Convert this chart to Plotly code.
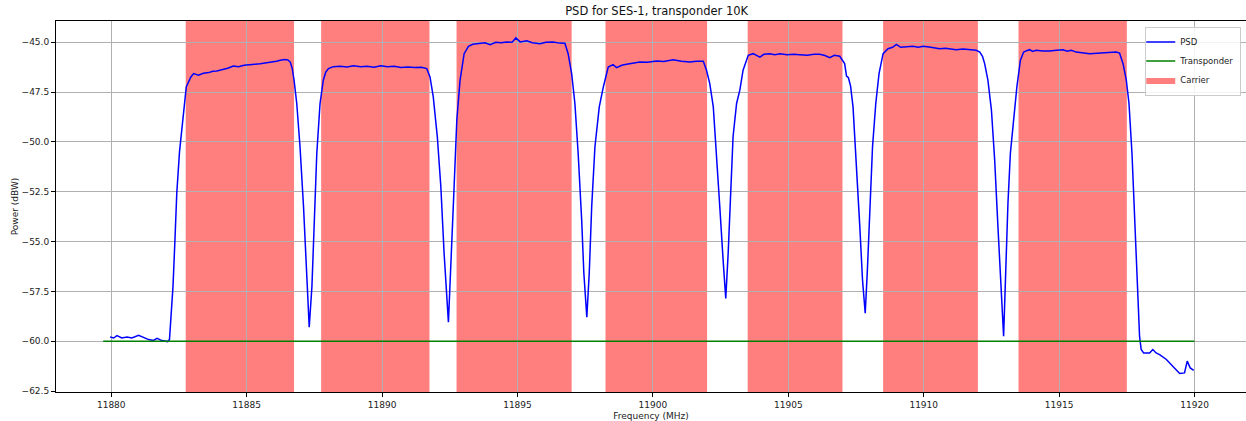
import plotly.graph_objects as go

# ---- data ----
freq_mhz = [
    11879.96, 11880.09, 11880.21, 11880.39, 11880.58, 11880.76, 11881.01, 11881.19, 11881.38, 11881.56,
    11881.69, 11881.87, 11882.08, 11882.15,
    11882.22, 11882.28, 11882.35, 11882.42, 11882.52, 11882.63, 11882.77, 11882.94, 11883.04,
    11883.22, 11883.40, 11883.60, 11883.75, 11883.90, 11884.10, 11884.30, 11884.51, 11884.70, 11884.90,
    11885.13, 11885.30, 11885.50, 11885.74, 11885.95, 11886.10, 11886.24, 11886.40, 11886.52, 11886.61,
    11886.68, 11886.75, 11886.85, 11886.97, 11887.10, 11887.22, 11887.31, 11887.41, 11887.49, 11887.59,
    11887.71, 11887.83, 11887.92, 11888.02,
    11888.20, 11888.45, 11888.70, 11888.95, 11889.20, 11889.45, 11889.70, 11889.95, 11890.20, 11890.45,
    11890.70, 11890.95, 11891.20, 11891.45, 11891.65,
    11891.77, 11891.89, 11892.04, 11892.17, 11892.29, 11892.45, 11892.57, 11892.66, 11892.76, 11892.88,
    11893.03, 11893.19,
    11893.35, 11893.62, 11893.80, 11893.99, 11894.20, 11894.40, 11894.60, 11894.80, 11894.94, 11895.10,
    11895.34, 11895.55, 11895.83, 11896.05, 11896.32, 11896.55, 11896.75,
    11896.87, 11897.00, 11897.12, 11897.24, 11897.37, 11897.45, 11897.56, 11897.65, 11897.74, 11897.86,
    11898.02, 11898.17, 11898.35,
    11898.53, 11898.66, 11898.85, 11899.03, 11899.25, 11899.52, 11899.80, 11900.14, 11900.40, 11900.75,
    11901.05, 11901.37, 11901.60, 11901.86,
    11901.98, 11902.10, 11902.23, 11902.35, 11902.47, 11902.60, 11902.69, 11902.78, 11902.87, 11902.96,
    11903.09, 11903.21, 11903.33, 11903.52,
    11903.70, 11903.82, 11903.95, 11904.10, 11904.32, 11904.50, 11904.70, 11904.95, 11905.20, 11905.42,
    11905.70, 11905.95, 11906.16, 11906.35, 11906.53, 11906.70, 11906.90,
    11907.08, 11907.15, 11907.22, 11907.30, 11907.39, 11907.52, 11907.64, 11907.74, 11907.84, 11907.92,
    11908.01, 11908.11, 11908.23, 11908.35, 11908.50, 11908.68,
    11908.85, 11908.99, 11909.15, 11909.36, 11909.60, 11909.80, 11909.98, 11910.20, 11910.40, 11910.59,
    11910.80, 11911.00, 11911.20, 11911.45, 11911.65, 11911.82, 11911.94,
    11912.07, 11912.17, 11912.25, 11912.37, 11912.50, 11912.62, 11912.74, 11912.84, 11912.95, 11913.03,
    11913.11, 11913.20, 11913.32, 11913.44, 11913.57, 11913.69,
    11913.80, 11913.91, 11914.02, 11914.15, 11914.40, 11914.65, 11914.90, 11915.14, 11915.30, 11915.45,
    11915.63, 11915.85, 11916.13, 11916.40, 11916.62, 11916.85, 11917.11, 11917.23,
    11917.36, 11917.48, 11917.58, 11917.69, 11917.79, 11917.88, 11917.97, 11918.03, 11918.12,
    11918.34, 11918.46, 11918.58, 11918.71, 11918.96, 11919.20, 11919.45, 11919.63, 11919.73, 11919.84,
    11919.97,
]
psd_dbw = [
    -59.79, -59.84, -59.72, -59.84, -59.79, -59.84, -59.70, -59.80, -59.92, -59.96,
    -59.86, -59.97, -60.02, -59.92,
    -58.50, -57.25, -55.00, -52.56, -50.50, -48.90, -47.24, -46.74, -46.57,
    -46.65, -46.55, -46.52, -46.45, -46.44, -46.38, -46.30, -46.19, -46.22, -46.15,
    -46.14, -46.10, -46.08, -46.04, -46.00, -45.95, -45.90, -45.86, -45.88, -45.99,
    -46.30, -46.90, -48.07, -50.24, -53.25, -56.92, -59.30, -57.25, -53.91, -50.57,
    -48.07, -46.90, -46.50, -46.32,
    -46.22, -46.20, -46.24, -46.18, -46.22, -46.20, -46.25, -46.18, -46.22, -46.20,
    -46.26, -46.24, -46.27, -46.25, -46.32,
    -46.74, -47.74, -49.74, -52.25, -55.58, -59.05, -55.58, -52.25, -48.90, -46.90,
    -45.57, -45.20,
    -45.10, -45.07, -45.02, -45.12, -45.00, -45.02, -44.98, -45.00, -44.78, -44.98,
    -44.92, -45.02, -45.07, -45.00, -44.98, -45.04, -45.05,
    -45.57, -46.57, -48.07, -50.57, -53.91, -56.58, -58.80, -56.58, -53.25, -50.24,
    -48.24, -47.24, -46.24,
    -46.12, -46.27, -46.15, -46.10, -46.05, -45.99, -46.00, -45.94, -45.96, -45.87,
    -45.95, -45.99, -45.95, -45.95,
    -46.40, -47.07, -48.24, -50.57, -53.25, -56.08, -57.85, -55.58, -52.25, -49.74,
    -48.07, -47.40, -46.40, -45.65,
    -45.57, -45.66, -45.74, -45.60, -45.57, -45.62, -45.57, -45.62, -45.60, -45.62,
    -45.65, -45.60, -45.60, -45.66, -45.77, -45.65, -45.70,
    -46.07, -46.70, -46.78, -47.20, -48.24, -51.07, -54.25, -56.92, -58.60, -56.42,
    -53.25, -50.24, -48.07, -46.57, -45.57, -45.32,
    -45.25, -45.10, -45.25, -45.23, -45.20, -45.25, -45.20, -45.24, -45.28, -45.32,
    -45.30, -45.35, -45.37, -45.34, -45.37, -45.37, -45.40,
    -45.49, -45.70, -46.07, -46.90, -48.40, -50.91, -54.25, -57.25, -59.75, -56.42,
    -53.08, -50.57, -48.90, -47.24, -45.90, -45.49,
    -45.42, -45.37, -45.46, -45.40, -45.43, -45.44, -45.40, -45.37, -45.45, -45.40,
    -45.49, -45.54, -45.57, -45.55, -45.54, -45.52, -45.49, -45.54,
    -46.07, -46.90, -48.07, -50.57, -53.91, -57.25, -59.76, -60.42, -60.59,
    -60.59, -60.42, -60.59, -60.67, -60.92, -61.26, -61.62, -61.59, -61.00, -61.34,
    -61.46,
]

transponder_freq = [11879.7, 11920.0]
transponder_level = [-60.0, -60.0]

carrier_start = [11882.75, 11887.75, 11892.75, 11898.25, 11903.5, 11908.5, 11913.5]
carrier_stop = [11886.75, 11891.75, 11897.0, 11902.0, 11907.0, 11912.0, 11917.5]

x_ticks = [11880, 11885, 11890, 11895, 11900, 11905, 11910, 11915, 11920]
y_ticks = [-62.5, -60.0, -57.5, -55.0, -52.5, -50.0, -47.5, -45.0]

title_text = "PSD for SES-1, transponder 10K"
x_label = "Frequency (MHz)"
y_label = "Power (dBW)"

# ---- figure ----
FONT = "DejaVu Sans"
CARRIER_FILL = "rgba(255,0,0,0.5)"

fig = go.Figure()

fig.add_trace(go.Scatter(
    x=freq_mhz, y=psd_dbw, mode="lines", name="PSD",
    line=dict(color="#0000ff", width=1.5),
))
fig.add_trace(go.Scatter(
    x=transponder_freq, y=transponder_level, mode="lines", name="Transponder",
    line=dict(color="#008000", width=1.5),
))
# legend entry for carriers (the rectangles themselves are shapes)
fig.add_trace(go.Scatter(
    x=[None], y=[None], mode="lines", name="Carrier", fill="toself",
    fillcolor=CARRIER_FILL, line=dict(width=0, color=CARRIER_FILL),
))

for s, e in zip(carrier_start, carrier_stop):
    fig.add_shape(type="rect", xref="x", yref="paper", x0=s, x1=e, y0=0, y1=1,
                  fillcolor=CARRIER_FILL, line=dict(width=0), layer="below")

axis_common = dict(
    showline=True, linecolor="#000000", linewidth=1, mirror=True,
    ticks="outside", ticklen=4, tickcolor="#000000", tickwidth=1,
    showgrid=True, gridcolor="#b0b0b0", gridwidth=1, zeroline=False,
    tickfont=dict(family=FONT, size=9, color="#222222"),
)

fig.update_xaxes(
    range=[11877.96, 11921.9], tickmode="array", tickvals=x_ticks,
    ticktext=[str(v) for v in x_ticks],
    title=dict(text=x_label, font=dict(family=FONT, size=9, color="#222222"), standoff=4),
    **axis_common,
)
fig.update_yaxes(
    range=[-62.55, -43.93], tickmode="array", tickvals=y_ticks,
    ticktext=[f"{v:.1f}".replace("-", "\u2212") for v in y_ticks],
    title=dict(text=y_label, font=dict(family=FONT, size=9, color="#222222"), standoff=1),
    **axis_common,
)

fig.update_layout(
    width=1246, height=421,
    margin=dict(l=56, r=0, t=21, b=29),
    paper_bgcolor="white", plot_bgcolor="white",
    title=dict(text=title_text, x=0.527, xanchor="center", y=0.975, yanchor="middle",
               font=dict(family=FONT, size=11.5, color="#111111")),
    showlegend=True,
    legend=dict(x=0.996, xanchor="right", y=0.985, yanchor="top",
                bgcolor="rgba(255,255,255,0.85)", bordercolor="#cccccc", borderwidth=1,
                font=dict(family=FONT, size=8.5, color="#222222"),
                itemwidth=30, tracegroupgap=0, indentation=-6),
)

fig.write_html("out.html")
